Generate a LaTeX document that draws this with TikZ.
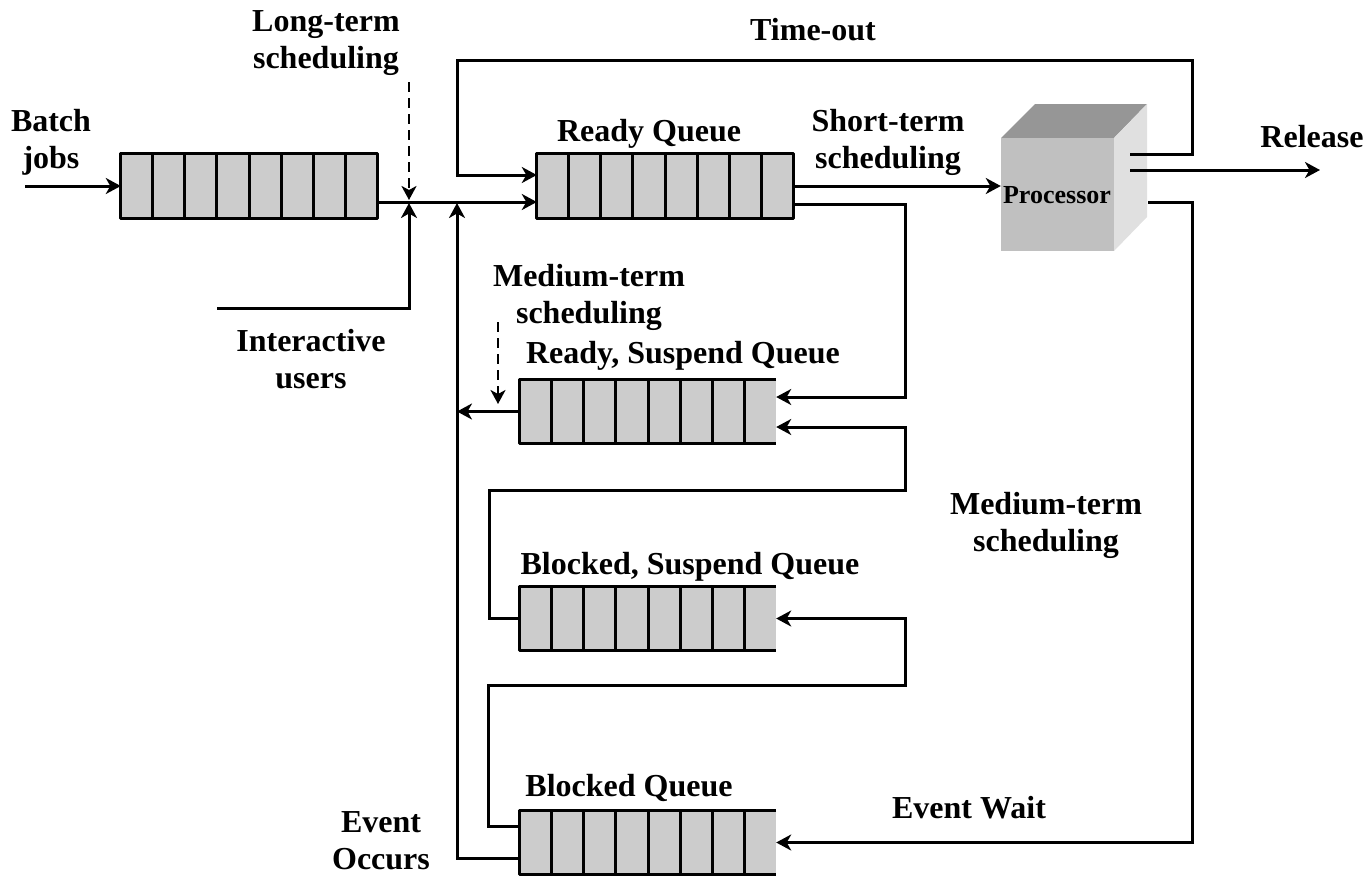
\documentclass[tikz,border=0pt]{standalone}
\usepackage{fontspec}
\setmainfont{Liberation Serif}
\usetikzlibrary{arrows.meta,calc}

\definecolor{qfill}{HTML}{CCCCCC}
\definecolor{pfront}{HTML}{C0C0C0}
\definecolor{ptop}{HTML}{969696}
\definecolor{pside}{HTML}{E0E0E0}

\tikzset{
  lbl/.style={font=\fontsize{32}{37}\selectfont\bfseries, inner sep=0pt, align=center, anchor=base},
  queuebox/.style={rectangle, fill=qfill, minimum width=256pt, minimum height=64pt, inner sep=0pt},
  qline/.style={line width=3pt, line join=round},
  flow/.style={line width=3pt, -{Stealth[length=15pt,width=16pt,inset=4.5pt]}},
  sched/.style={line width=2.4pt, dash pattern=on 10pt off 6pt, -{Stealth[length=14pt,width=15pt,inset=4pt]}}
}

% a queue of eight cells; #2 = c (right border drawn) or o (open right end)
\newcommand{\qcells}[2]{%
  \foreach \i in {1,...,7}
    \draw[qline] ($(#1.south west)!\i/8!(#1.south east)$) -- ($(#1.north west)!\i/8!(#1.north east)$);
  \ifx#2c
    \draw[qline] (#1.north west) rectangle (#1.south east);
  \else
    \draw[qline] (#1.north east) -- (#1.north west) -- (#1.south west) -- (#1.south east);
  \fi
}

\begin{document}
\begin{tikzpicture}[x=1pt, y=-1pt]
\useasboundingbox (0,0) rectangle (1368,876);

% queues
\node[queuebox] (bq)  at (249,186)   {};
\node[queuebox] (rq)  at (665,186)   {};
\node[queuebox] (rsq) at (648,411.5) {};
\node[queuebox] (bsq) at (648,618.5) {};
\node[queuebox] (bkq) at (648,842.5) {};
\qcells{bq}{c}
\qcells{rq}{c}
\qcells{rsq}{o}
\qcells{bsq}{o}
\qcells{bkq}{o}

% processor cube
\fill[ptop]  (1001,138) -- (1035,104) -- (1147,104) -- (1114,138) -- cycle;
\fill[pside] (1114,138) -- (1147,104) -- (1147,217) -- (1114,251) -- cycle;
\node[rectangle, fill=pfront, minimum width=113pt, minimum height=113pt, inner sep=0pt] (proc) at (1057.5,194.5) {};
\node[font=\fontsize{26}{30}\selectfont\bfseries, inner sep=0pt, anchor=base] (proclbl) at (1057,203) {Processor};

% ports and free ends
\coordinate (batchin) at (25,186);
\coordinate (tout) at (1130,154);
\coordinate (rel) at (1130,170);
\coordinate (relend) at (1320,170);
\coordinate (ewait) at (1148,202);
\coordinate (iusers) at (217,308);
\coordinate (ltop) at (409,82);
\coordinate (mtop) at (498,322);

% connectors
\draw[flow] (batchin) -- (bq.west);
\draw[flow] ([yshift=-16pt]bq.east) -- ([yshift=-16pt]rq.west);
\draw[flow] (tout) -| (1192,60) -| (457,175) -- ([yshift=11pt]rq.west);
\draw[flow] (rel) -- (relend);
\draw[flow] (rq.east) -- (proc.west |- rq.east);
\draw[flow] (ewait) -| (1192,842.5) -- (bkq.east);
\draw[flow] ([yshift=-18pt]rq.east) -| (905,397) -- ([yshift=14.5pt]rsq.east);
\draw[flow] (bsq.west) -| (489,490) -| (905,427) -- ([yshift=-15.5pt]rsq.east);
\draw[flow] ([yshift=16.5pt]bkq.west) -| (488,685) -| (905,618.5) -- (bsq.east);
\draw[flow] ([yshift=-15.5pt]bkq.west) -| (457,203);
\draw[flow] (rsq.west) -- (457,411.5);
\draw[flow] (iusers) -| (409,203);
\draw[sched] (ltop) -- (409,200);
\draw[sched] (mtop) -- (498,404);

% labels (anchor = baseline of the last line)
\node[lbl] (lbatch) at (51,168) {Batch\\jobs};
\node[lbl] (llong) at (326,68) {Long-term\\scheduling};
\node[lbl] (ltime) at (813,40) {Time-out};
\node[lbl] (lready) at (649,141) {Ready Queue};
\node[lbl] (lshort) at (888,168) {Short-term\\scheduling};
\node[lbl] (lrel) at (1312,147) {Release};
\node[lbl] (lmed1) at (589,323) {Medium-term\\scheduling};
\node[lbl] (lrsq) at (683,363) {Ready, Suspend Queue};
\node[lbl] (linter) at (311,388) {Interactive\\users};
\node[lbl] (lmed2) at (1046,551) {Medium-term\\scheduling};
\node[lbl] (lbsq) at (690,574) {Blocked, Suspend Queue};
\node[lbl] (lbkq) at (629,796) {Blocked Queue};
\node[lbl] (lwait) at (969,818) {Event Wait};
\node[lbl] (locc) at (381,869) {Event\\Occurs};
\end{tikzpicture}
\end{document}
